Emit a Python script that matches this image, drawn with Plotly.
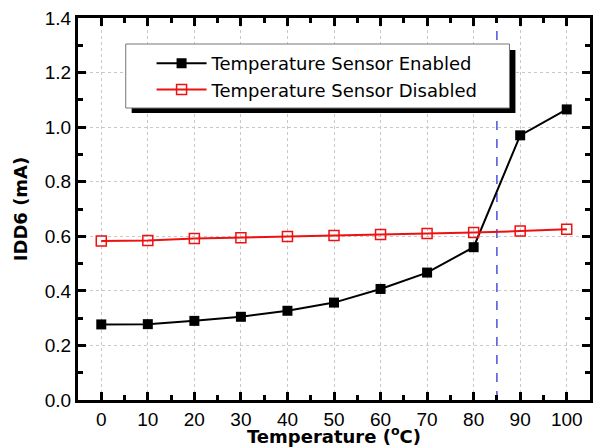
import plotly.graph_objects as go

temps = [0, 10, 20, 30, 40, 50, 60, 70, 80, 90, 100]
enabled = [0.277, 0.278, 0.290, 0.305, 0.327, 0.357, 0.407, 0.467, 0.560, 0.970, 1.065]
disabled = [0.583, 0.585, 0.592, 0.595, 0.599, 0.603, 0.607, 0.610, 0.614, 0.619, 0.626]
limit_temp = 85
y_ticks = [0.0, 0.2, 0.4, 0.6, 0.8, 1.0, 1.2, 1.4]
x_ticks = temps

W, H = 594, 447
ml, mr, mt, mb = 78, 1, 18, 47
pw, ph = W - ml - mr, H - mt - mb

def px_x(p):
    return (p - ml) / pw

def px_y(p):
    return (H - mb - p) / ph

fig = go.Figure()
fig.add_trace(go.Scatter(
    x=[limit_temp, limit_temp], y=[y_ticks[0], y_ticks[-1]], mode="lines",
    line=dict(color="#3333dd", width=1.3, dash="dash"), showlegend=False, hoverinfo="skip",
))
fig.add_trace(go.Scatter(
    x=temps, y=enabled, mode="lines+markers", name="Temperature Sensor Enabled",
    line=dict(color="black", width=2),
    marker=dict(symbol="square", size=10, color="black"),
))
fig.add_trace(go.Scatter(
    x=temps, y=disabled, mode="lines+markers", name="Temperature Sensor Disabled",
    line=dict(color="#ee1111", width=2),
    marker=dict(symbol="square-open", size=10, color="#ee1111", line=dict(width=1.5)),
))

# legend box with shadow
fig.add_shape(type="rect", xref="paper", yref="paper",
              x0=px_x(132), x1=px_x(518), y0=px_y(113), y1=px_y(50),
              fillcolor="black", line=dict(width=0), layer="above")
fig.add_shape(type="rect", xref="paper", yref="paper",
              x0=px_x(126), x1=px_x(512), y0=px_y(108), y1=px_y(44),
              fillcolor="white", line=dict(width=1, color="#777777"), layer="above")

axis_common = dict(
    showline=True, linecolor="black", linewidth=3, mirror="ticks",
    ticks="inside", ticklen=8, tickwidth=3, tickcolor="black",
    showgrid=True, gridcolor="#c8c8c8", griddash="dot", gridwidth=1,
    zeroline=False,
    tickfont=dict(family="Liberation Sans", size=19, color="black"),
)

fig.update_xaxes(
    range=[-5, 105], tickvals=x_ticks,
    minor=dict(dtick=5, tick0=5, ticks="inside", ticklen=5, tickwidth=3, tickcolor="black", showgrid=False),
    title=dict(text="<b>Temperature (<sup>o</sup>C)</b>", standoff=3,
               font=dict(family="DejaVu Sans", size=18, color="black")),
    **axis_common,
)
fig.update_yaxes(
    range=[0, 1.4], tickvals=y_ticks, tickformat=".1f",
    minor=dict(dtick=0.1, ticks="inside", ticklen=5, tickwidth=3, tickcolor="black", showgrid=False),
    title=dict(text="<b>IDD6 (mA)</b>", standoff=13,
               font=dict(family="DejaVu Sans", size=18, color="black")),
    **axis_common,
)

fig.update_layout(
    width=W, height=H,
    margin=dict(l=ml, r=mr, t=mt, b=mb),
    plot_bgcolor="white", paper_bgcolor="white",
    showlegend=True,
    hovermode=False,
    legend=dict(
        x=px_x(152), y=px_y(45), xanchor="left", yanchor="top",
        bgcolor="rgba(0,0,0,0)", borderwidth=0,
        font=dict(family="DejaVu Sans", size=18, color="black"),
        itemwidth=50,
    ),
)

fig.write_html("out.html", config={"displayModeBar": False},
               post_script="document.body.style.margin='0';document.body.style.padding='0';")
